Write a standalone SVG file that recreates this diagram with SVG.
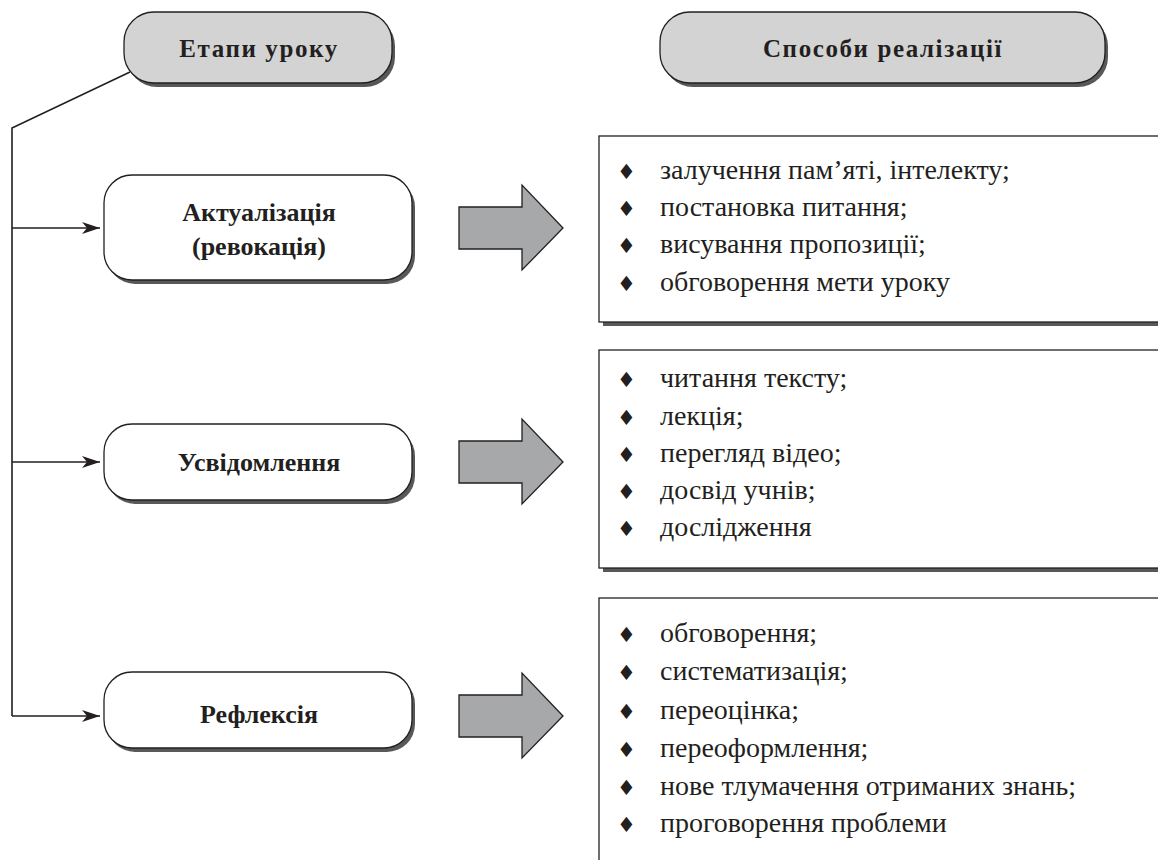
<svg xmlns="http://www.w3.org/2000/svg" width="1158" height="860" viewBox="0 0 1158 860">
<style>
.hdr{fill:#d3d3d3;stroke:#231f20;stroke-width:1.3}
.node{fill:#ffffff;stroke:#231f20;stroke-width:1.3}
.shadow{fill:#58585a}
.box{fill:#ffffff;stroke:#231f20;stroke-width:1.3}
.big{fill:#a7a8aa;stroke:#231f20;stroke-width:1.3;stroke-linejoin:miter}
.ht{font-family:"Liberation Serif","DejaVu Serif",serif;font-weight:bold;font-size:25px;fill:#231f20;text-anchor:middle;letter-spacing:1.6px}
.nt{font-family:"Liberation Serif","DejaVu Serif",serif;font-weight:bold;font-size:26px;fill:#231f20;text-anchor:middle}
.li{font-family:"Liberation Serif","DejaVu Serif",serif;font-size:28px;fill:#231f20}
.bu{font-family:"DejaVu Sans",sans-serif;font-size:21px;fill:#231f20}
.conn{fill:none;stroke:#231f20;stroke-width:1.6}
</style>
<defs>
<marker id="ah" markerWidth="18" markerHeight="12" refX="18" refY="6" orient="auto" markerUnits="userSpaceOnUse">
<path d="M0,0 L18,6 L0,12 L5,6 Z" fill="#231f20"/>
</marker>
</defs>

<g id="header-etapy">
<rect class="shadow" x="127" y="16" width="268" height="71" rx="30"/>
<rect class="hdr" x="124" y="12" width="268" height="71" rx="30"/>
<text class="ht" x="259" y="57">Етапи уроку</text>
</g>

<g id="header-sposoby">
<rect class="shadow" x="663" y="16" width="445" height="71" rx="30"/>
<rect class="hdr" x="660" y="12" width="445" height="71" rx="30"/>
<text class="ht" x="883" y="57">Способи реалізації</text>
</g>

<g id="connectors">
<polyline class="conn" points="130,72 12,128 12,716"/>
<line class="conn" x1="12" y1="228" x2="100" y2="228" marker-end="url(#ah)"/>
<line class="conn" x1="12" y1="462" x2="100" y2="462" marker-end="url(#ah)"/>
<line class="conn" x1="12" y1="716" x2="100" y2="716" marker-end="url(#ah)"/>
</g>

<g id="node-aktualizatsiia">
<rect class="shadow" x="107" y="179" width="308" height="105" rx="28"/>
<rect class="node" x="104" y="175" width="308" height="105" rx="28"/>
<text class="nt" x="259" y="221">Актуалізація</text>
<text class="nt" x="259" y="255">(ревокація)</text>
</g>

<g id="node-usvidomlennia">
<rect class="shadow" x="107" y="428" width="308" height="76" rx="28"/>
<rect class="node" x="104" y="424" width="308" height="76" rx="28"/>
<text class="nt" x="259" y="471">Усвідомлення</text>
</g>

<g id="node-refleksiia">
<rect class="shadow" x="107" y="676" width="308" height="76" rx="28"/>
<rect class="node" x="104" y="672" width="308" height="76" rx="28"/>
<text class="nt" x="259" y="723">Рефлексія</text>
</g>

<g id="arrow-1">
<polygon class="big" points="459,207 522,207 522,185 563,228 522,270 522,249 459,249"/>
</g>
<g id="arrow-2">
<polygon class="big" points="459,441 522,441 522,419 563,462 522,504 522,483 459,483"/>
</g>
<g id="arrow-3">
<polygon class="big" points="459,695 522,695 522,673 563,716 522,758 522,737 459,737"/>
</g>

<g id="box-1">
<rect class="shadow" x="603" y="140" width="560" height="186"/>
<rect class="box" x="599" y="136" width="570" height="186"/>
<text class="bu" x="617" y="179">♦</text><text class="li" x="660" y="179">залучення пам’яті, інтелекту;</text>
<text class="bu" x="617" y="216">♦</text><text class="li" x="660" y="216">постановка питання;</text>
<text class="bu" x="617" y="253">♦</text><text class="li" x="660" y="253">висування пропозиції;</text>
<text class="bu" x="617" y="291">♦</text><text class="li" x="660" y="291">обговорення мети уроку</text>
</g>

<g id="box-2">
<rect class="shadow" x="603" y="354" width="560" height="218"/>
<rect class="box" x="599" y="350" width="570" height="218"/>
<text class="bu" x="617" y="387">♦</text><text class="li" x="660" y="387">читання тексту;</text>
<text class="bu" x="617" y="425">♦</text><text class="li" x="660" y="425">лекція;</text>
<text class="bu" x="617" y="462">♦</text><text class="li" x="660" y="462">перегляд відео;</text>
<text class="bu" x="617" y="499">♦</text><text class="li" x="660" y="499">досвід учнів;</text>
<text class="bu" x="617" y="536">♦</text><text class="li" x="660" y="536">дослідження</text>
</g>

<g id="box-3">
<rect class="box" x="599" y="598" width="570" height="280"/>
<text class="bu" x="617" y="642">♦</text><text class="li" x="660" y="642">обговорення;</text>
<text class="bu" x="617" y="680">♦</text><text class="li" x="660" y="680">систематизація;</text>
<text class="bu" x="617" y="719">♦</text><text class="li" x="660" y="719">переоцінка;</text>
<text class="bu" x="617" y="757">♦</text><text class="li" x="660" y="757">переоформлення;</text>
<text class="bu" x="617" y="795">♦</text><text class="li" x="660" y="795">нове тлумачення отриманих знань;</text>
<text class="bu" x="617" y="832">♦</text><text class="li" x="660" y="832">проговорення проблеми</text>
</g>
</svg>
